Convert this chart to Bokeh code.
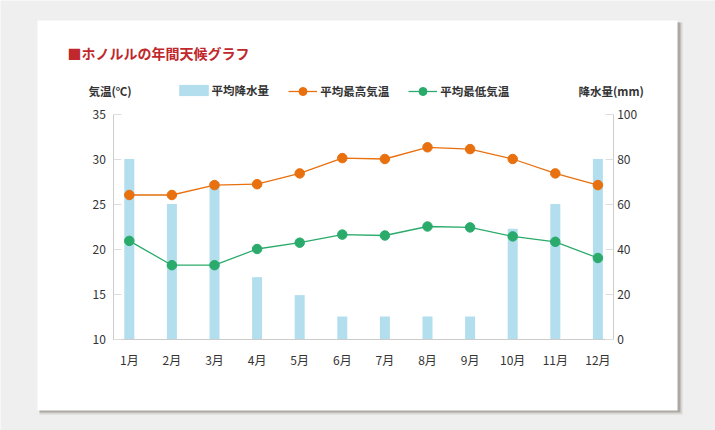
from bokeh.plotting import figure
from bokeh.models import (Range1d, LinearAxis, FixedTicker, BoxAnnotation, Label,
                          Legend, LegendItem, ColumnDataSource)
from bokeh.embed import file_html
from bokeh.resources import INLINE

# ---- data ----
months = ["1月", "2月", "3月", "4月", "5月", "6月", "7月", "8月", "9月", "10月", "11月", "12月"]
month_idx = list(range(1, 13))
rain_mm = [80, 60, 70, 27.5, 19.5, 10, 10, 10, 10, 49, 60, 80]
high_c = [26.0, 26.0, 27.1, 27.2, 28.4, 30.1, 30.0, 31.3, 31.1, 30.0, 28.4, 27.1]
low_c = [20.9, 18.2, 18.2, 20.0, 20.7, 21.6, 21.5, 22.5, 22.4, 21.4, 20.8, 19.0]
temp_ticks = [10, 15, 20, 25, 30, 35]
rain_ticks = [0, 20, 40, 60, 80, 100]
title_text = "■ホノルルの年間天候グラフ"
left_title = "気温(℃)"
right_title = "降水量(mm)"
legend_labels = ["平均降水量", "平均最高気温", "平均最低気温"]

# ---- layout constants (pixels) ----
W, H = 715, 430
X_FIRST, X_STEP = 128.8, 42.6        # pixel of first month, pixels per month
AX_L, AX_R = 113.3, 612.7            # axis line pixels
Y_BASE = 338.5                       # pixel of temperature 10 / rain 0
PX_PER_C, PX_PER_MM = 9.0, 2.25

def px2x(px):
    return 1 + (px - X_FIRST) / X_STEP

t_lo, t_hi = temp_ticks[0], temp_ticks[-1]
x_range = Range1d(px2x(0), px2x(W))
y_range = Range1d(t_lo - (H - Y_BASE) / PX_PER_C, t_lo + Y_BASE / PX_PER_C)
rain_range = Range1d(rain_ticks[0] - (H - Y_BASE) / PX_PER_MM, rain_ticks[0] + Y_BASE / PX_PER_MM)

FONT = "Noto Sans CJK JP"
BAR_C = "#b2deee"
ORANGE = "#e8700e"
GREEN = "#2aab6b"
AXIS_C = "#cccccc"
TICK_C = "#dddddd"
TEXT_C = "#333333"
BG = "#efefef"

src = ColumnDataSource(dict(x=month_idx, rain=rain_mm, high=high_c, low=low_c))

p = figure(width=W, height=H, frame_width=W, frame_height=H,
           x_range=x_range, y_range=y_range,
           output_backend="svg", toolbar_location=None,
           background_fill_color=BG, border_fill_color=BG,
           outline_line_color=None, min_border=0)
p.extra_y_ranges = {"rain": rain_range}
p.xgrid.visible = False
p.ygrid.visible = False

# card and its shadow (drawn under the glyphs)
for l, r, t, b, c in [(39, 682, 22, 414, "#d9d7d4"), (39, 680, 22, 412, "#aca8a3"),
                      (37, 677, 20, 410, "white")]:
    p.add_layout(BoxAnnotation(left=l, right=r, top=t, bottom=b,
                               left_units="canvas", right_units="canvas",
                               top_units="canvas", bottom_units="canvas",
                               fill_color=c, fill_alpha=1, line_color=None,
                               level="underlay"))

bars = p.vbar(x="x", top="rain", bottom=0, width=0.235, source=src, y_range_name="rain",
              fill_color=BAR_C, line_color=None)
hl = p.line("x", "high", source=src, line_color=ORANGE, line_width=1.3)
hs = p.scatter("x", "high", source=src, size=9.5, fill_color=ORANGE, line_color=ORANGE)
ll = p.line("x", "low", source=src, line_color=GREEN, line_width=1.3)
ls = p.scatter("x", "low", source=src, size=9.5, fill_color=GREEN, line_color=GREEN)

# bottom axis
xa = p.xaxis[0]
xa.ticker = FixedTicker(ticks=month_idx)
xa.major_label_overrides = {i: m for i, m in zip(month_idx, months)}
xa.major_tick_line_color = None
xa.minor_tick_line_color = None
xa.axis_line_color = AXIS_C
xa.major_label_standoff = 6
xa.fixed_location = t_lo
xa.bounds = (px2x(AX_L), px2x(AX_R))

# left axis
ya = p.yaxis[0]
ya.ticker = FixedTicker(ticks=temp_ticks)
ya.major_tick_in = 8
ya.major_tick_out = 0
ya.major_tick_line_color = TICK_C
ya.minor_tick_line_color = None
ya.axis_line_color = AXIS_C
ya.major_label_standoff = 8
ya.fixed_location = px2x(AX_L)
ya.bounds = (t_lo, t_hi)

# right axis
ra = LinearAxis(y_range_name="rain", ticker=FixedTicker(ticks=rain_ticks))
ra.major_tick_in = 8
ra.major_tick_out = 0
ra.major_tick_line_color = TICK_C
ra.minor_tick_line_color = None
ra.axis_line_color = AXIS_C
ra.major_label_standoff = 4
ra.fixed_location = px2x(AX_R)
ra.bounds = (rain_ticks[0], rain_ticks[-1])
p.add_layout(ra, "right")

for ax in (xa, ya, ra):
    ax.major_label_text_font = FONT
    ax.major_label_text_font_size = "12px"
    ax.major_label_text_color = TEXT_C

common = dict(orientation="horizontal", background_fill_alpha=0, border_line_color=None,
              padding=0, margin=0, label_text_font=FONT, label_text_font_size="11.5px",
              label_text_font_style="bold", label_text_color=TEXT_C)
legend_bar = Legend(items=[LegendItem(label=legend_labels[0], renderers=[bars])],
                    location=(174.5, 332), glyph_width=37, glyph_height=14,
                    label_standoff=0, **common)
legend_lines = Legend(items=[LegendItem(label=legend_labels[1], renderers=[hl, hs]),
                             LegendItem(label=legend_labels[2], renderers=[ll, ls])],
                      location=(288.3, 329), glyph_width=29, glyph_height=20,
                      label_standoff=3, spacing=19, **common)
p.add_layout(legend_bar)
p.add_layout(legend_lines)

p.add_layout(Label(x=67, y=52, x_units="canvas", y_units="canvas", text=title_text,
                   text_font=FONT, text_font_size="14px", text_font_style="bold",
                   text_color="#c0282d", text_baseline="middle", text_align="left"))
p.add_layout(Label(x=88, y=90, x_units="canvas", y_units="canvas", text=left_title,
                   text_font=FONT, text_font_size="11.5px", text_font_style="bold",
                   text_color=TEXT_C, text_baseline="middle", text_align="left"))
p.add_layout(Label(x=578, y=90, x_units="canvas", y_units="canvas", text=right_title,
                   text_font=FONT, text_font_size="11.5px", text_font_style="bold",
                   text_color=TEXT_C, text_baseline="middle", text_align="left"))

open("out.html", "w").write(file_html(p, INLINE))
